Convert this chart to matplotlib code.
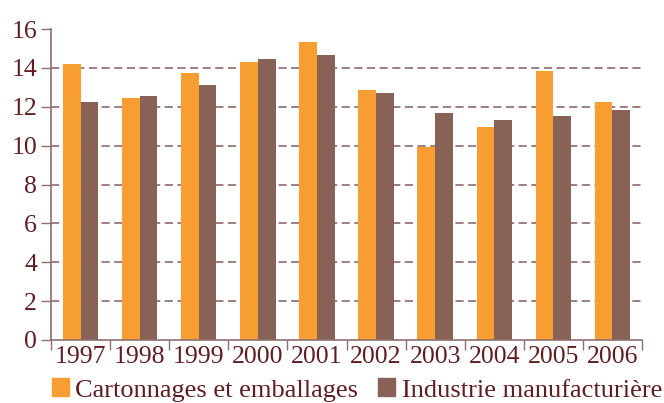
import numpy as np
import matplotlib
matplotlib.use("Agg")
import matplotlib.pyplot as plt
from matplotlib.patches import Patch

annees = ["1997", "1998", "1999", "2000", "2001", "2002", "2003", "2004", "2005", "2006"]
cartonnages = [14.2, 12.45, 13.73, 14.3, 15.33, 12.86, 9.93, 10.96, 13.84, 12.24]
industrie = [12.24, 12.55, 13.12, 14.45, 14.66, 12.7, 11.68, 11.32, 11.52, 11.83]
yticks = [0, 2, 4, 6, 8, 10, 12, 14, 16]

c_orange = "#F89D31"
c_brun = "#886157"
c_texte = "#5E1E22"
c_axe = "#8E6E6E"

plt.rcParams['font.family'] = ['Liberation Serif', 'DejaVu Serif']

fig = plt.figure(figsize=(6.64, 4.03), dpi=100)
ax = fig.add_axes([51/664, 1 - 340/403, 591/664, 311/403])

x = np.arange(len(annees))
w = 0.3
ax.bar(x - w/2, cartonnages, w, color=c_orange, zorder=2)
ax.bar(x + w/2, industrie, w, color=c_brun, zorder=2)

ax.set_xlim(-0.5, len(annees) - 0.5)
ax.set_ylim(0, 16)

# grille pointillée (sauf 0 et 16)
for v in yticks[1:-1]:
    ax.axhline(v, color="#7A5356", lw=1.3, ls=(0, (4.5, 2.5)), alpha=0.8, zorder=1)

ax.set_yticks(yticks)
ax.set_yticklabels([str(v) for v in yticks], fontsize=18.5, color=c_texte)
ax.tick_params(axis='y', length=7, width=1, color=c_axe, pad=3)

ax.set_xticks(x)
ax.set_xticklabels(annees, fontsize=18.5, color=c_texte)
ax.set_xticks(np.arange(len(annees) + 1) - 0.5, minor=True)
ax.tick_params(axis='x', which='major', length=0, pad=4)
ax.tick_params(axis='x', which='minor', length=7, width=1, color=c_axe)

for s in ['top', 'right']:
    ax.spines[s].set_visible(False)
for s in ['left', 'bottom']:
    ax.spines[s].set_color(c_axe)
    ax.spines[s].set_linewidth(1.2)

handles = [Patch(color=c_orange, label="Cartonnages et emballages"),
           Patch(color=c_brun, label="Industrie manufacturière")]
leg = fig.legend(handles=handles, loc='center', bbox_to_anchor=(357/664, 1 - 390/403),
                 ncol=2, frameon=False, fontsize=19, handlelength=0.65, handleheight=0.65,
                 handletextpad=0.25, columnspacing=0.75, borderpad=0)
for t in leg.get_texts():
    t.set_color(c_texte)

fig.savefig("out.png", dpi=100)
